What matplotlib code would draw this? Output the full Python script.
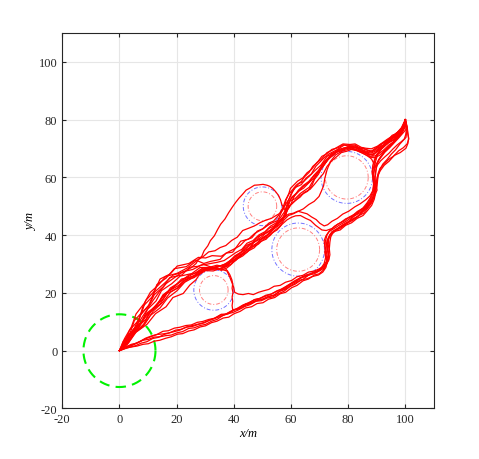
import matplotlib
matplotlib.use("Agg")
import matplotlib.pyplot as plt
import numpy as np

# ---------------- data ----------------
start_xy = (0, 0)
start_radius = 12.6

obst_x = [33, 50, 62.5, 79.5]
obst_y = [21, 50, 35, 60]
obst_r_inner = [5, 5, 7.5, 7.5]
obst_r_safe = [7, 6.7, 9.2, 9.0]

xticks = [-20, 0, 20, 40, 60, 80, 100]
yticks = [-20, 0, 20, 40, 60, 80, 100]

U1 = [(0,0),(2,3.4),(3.6,7.2),(6.8,10.6),(8.2,15.3),(11.4,18.6),(13.1,22.9),(16.3,25.1),(19.2,28.4),(23.4,29.1),(26.6,31.4),(29.5,30.2),(31.8,30.9),(35.2,31.6),(37.3,33.8),(39.6,34.1),(42.4,37.9),(45.1,38.6),(47.3,40.6),(50.2,42.2),(52.6,43.9),(55.4,45.1),(57.2,49.3),(59.4,52.6),(61.2,56.4),(63.6,57.5),(65.3,59.8),(67.1,61.2),(68.7,63.9),(71.6,66.8),(73.2,68.1),(76.3,69.7),(78.6,71.2),(80.4,70.7),(82.5,70.9),(84.3,69.7),(87.2,68.8),(89.4,69.6),(91.2,71.4),(93.6,72.6),(95.4,74.6),(97.3,75.3),(99.2,77.6),(100,80)]
U2 = [(0,0),(2.6,4.4),(5.7,7.6),(7.6,12.9),(10.3,15.6),(12.2,19.4),(15.3,22.1),(17.6,25.3),(21.8,26.2),(24.6,28.9),(27.4,29.2),(29.3,29.9),(32.8,28.7),(35.1,29.2),(36.7,29.9),(38.6,31.1),(40.3,32.8),(42.5,34.1),(44.2,36.4),(46.4,37.3),(48.3,39.4),(50.6,40.6),(52.2,42.3),(54.1,43.2),(55.7,44.9),(58.2,47.1),(59.6,51.8),(61.4,52.6),(63.2,54.4),(66.4,56.6),(68.5,60.2),(69.7,61.8),(71.8,64.7),(74.2,68.3),(77.6,69.2),(80.3,70.4),(82.4,69.8),(85.2,68.9),(88.7,67.6),(90.2,69.4),(91.8,70.9),(93.6,71.6),(95.3,73.4),(97.6,74.6),(99.3,77.2),(100,80)]
U3 = [(0,0),(2.8,2.3),(4.6,5.8),(8.3,8.7),(10.6,13.3),(14.2,16.1),(16.6,19.8),(20.3,21.6),(22.6,24.4),(26.3,26.1),(28.6,28.3),(32.2,28.2),(35.3,28.4),(37.6,29.2),(39.1,30.9),(41.3,32.3),(43.2,33.6),(45.3,35.4),(47.1,36.3),(49.4,38.5),(51.2,39.4),(53.4,41.8),(55.6,44.2),(58.3,46.6),(58.2,49.2),(58.9,51.6),(60.2,54.7),(62.6,57.8),(64.4,58.6),(66.9,60.9),(68.3,62.3),(70.4,64.2),(72.6,67.3),(74.2,68.1),(76.8,69.8),(80.2,70.2),(82.6,70.6),(84.2,69.1),(87.6,67.8),(89.2,68.2),(90.8,69.7),(92.2,70.6),(94.3,72.4),(96.1,73.1),(97.6,74.8),(99.4,76.6),(100,80)]
U4 = [(0,0),(3.2,2.8),(5.8,6.4),(9.7,9.2),(12.6,12.8),(16.3,15.2),(18.7,18.4),(22.3,19.8),(24.6,22.7),(26.8,24.6),(27.9,26.3),(30.2,27.8),(33.2,28.7),(35.6,27.8),(37.5,28.6),(38.8,29.6),(40.2,31.2),(42.1,32.4),(43.8,34.7),(45.6,35.6),(47.2,37.8),(49.6,38.7),(51.8,40.2),(53.4,42.1),(55.2,43.3),(57.4,46.2),(58.6,48.3),(59.3,49.9),(61.6,52.1),(63.2,53.8),(65.8,55.2),(67.3,57.2),(68.2,59.3),(69.6,61.1),(70.8,63.4),(72.4,65.4),(73.6,66.9),(76.6,69.2),(78.2,70.1),(81.3,70.8),(83.4,70.1),(85.2,70.2),(88.1,68.7),(90.4,70.3),(92.3,71.2),(94.2,72.9),(96.1,73.8),(98.2,75.9),(99.3,77.4),(100,80)]
U5 = [(0,0),(1.3,3.2),(3.8,6.3),(5.2,10.4),(7.8,13.2),(9.2,17.4),(12.3,20.7),(14.2,24.8),(17.8,26.6),(20.2,29.3),(24.3,30.2),(27.6,32.3),(30.1,32.1),(32.4,32.9),(35.6,32.7),(38.1,34.2),(40.3,35.3),(42.2,36.4),(44.1,38.3),(46.3,39.1),(48.2,41.4),(50.1,42.2),(52.3,44.2),(53.9,44.9),(55.6,46.8),(57.2,49.6),(58.1,52.2),(59.3,54.3),(60.6,55.8),(61.8,57.3),(63.6,58.6),(64.8,60.3),(66.3,61.7),(67.6,63.8),(69.2,65.2),(70.8,67.3),(72.4,68.1),(74.3,69.7),(76.6,70.3),(78.2,71.3),(80.3,71.1),(82.4,71.2),(84.1,70.2),(86.3,69.6),(88.2,69.1),(89.7,70.3),(91.4,71.2),(93.2,72.7),(95.1,73.6),(96.8,75.3),(98.4,76.4),(99.2,77.8),(100,80)]
U6 = [(0,0),(2.8,3.2),(4.8,7.3),(7.8,10.1),(9.8,14.3),(12.8,17.2),(14.7,20.8),(18.3,23.2),(21.2,25.8),(25.3,26.7),(28.2,28.8),(32.3,28.8),(34.8,29.3),(36.9,29.6),(38.2,30.8),(40.1,32.1),(41.8,33.3),(43.6,35.1),(45.3,36.7),(47.6,37.8),(49.2,39.8),(51.7,40.9),(53.6,42.3),(55.2,44.1),(56.8,45.3),(58.4,48.8),(59.8,50.4),(61.3,51.8),(63.2,53.2),(64.6,54.8),(66.7,55.9),(68.2,57.6),(69.6,59.3),(71.3,61.3),(72.6,63.8),(74.2,65.7),(76.1,67.3),(77.6,68.6),(79.6,69.1),(81.4,69.8),(83.3,69.2),(85.2,68.3),(86.8,67.6),(88.2,66.3),(89.6,63.6),(90.6,64.8),(91.3,65.7),(92.8,67.1),(94.2,68.3),(95.6,69.8),(97.2,71.3),(98.6,72.4),(100.2,73.8),(100.6,77.1),(100,80)]
U7 = [(0,0),(3.2,3.3),(5.8,7.7),(9.2,10.8),(11.8,14.7),(15.2,17.8),(17.8,21.7),(21.2,23.8),(24.3,26.2),(28.2,27.3),(31.3,28.7),(35.2,28.3),(37.4,29.2),(39.3,30.1),(41.2,31.8),(43.1,32.8),(45.2,34.6),(47.1,35.6),(49.1,37.7),(51.3,38.6),(53.2,40.7),(55.1,41.8),(56.8,43.7),(58.6,45.3),(60.2,46.2),(61.6,46.7),(63.3,46.8),(65.2,45.8),(66.8,45.1),(68.6,43.4),(70.8,41.8),(72.3,41.6),(74.6,42.4),(76.3,43.8),(78.6,44.9),(80.4,46.3),(82.6,47.4),(84.3,48.7),(86.2,50.1),(87.8,51.8),(88.6,53.2),(89.2,55.3),(89.6,57.2),(89.3,59.1),(89.6,61.2),(89.8,63.1),(90.2,65.2),(91.4,67.2),(92.6,68.8),(94.2,70.4),(96.1,72.6),(97.6,74.2),(99.1,76.1),(100,80)]
U8 = [(0,0),(2.2,2.8),(4.3,6.2),(7.2,9.3),(9.8,13.2),(13.2,15.8),(15.8,19.7),(19.2,22.3),(22.3,24.7),(26.2,26.8),(29.3,28.6),(33.2,28.4),(35.8,29.6),(37.6,30.2),(39.6,31.8),(41.3,33.2),(43.6,34.8),(45.3,36.2),(47.4,37.8),(49.6,39.3),(51.3,40.8),(53.2,42.1),(55.1,43.8),(56.7,45.2),(57.6,46.3),(59.2,47.3),(60.8,47.6),(62.4,48.3),(63.8,47.9),(65.6,47.4),(67.2,46.3),(68.8,45.4),(70.1,44.1),(71.6,43.2),(72.8,43.6),(74.3,44.8),(76.2,45.8),(78.1,47.3),(80.2,48.3),(82.3,49.8),(84.1,50.8),(86.2,52.3),(87.6,53.6),(88.6,55.4),(89.1,57.6),(88.7,59.6),(88.4,61.7),(88.9,63.6),(89.2,65.6),(90.2,67.8),(91.6,69.8),(93.3,71.6),(95.2,73.3),(96.8,75.2),(98.6,76.8),(100,80)]
U9 = [(0,0),(2.4,4.2),(5.2,7.8),(7.3,12.2),(10.2,15.7),(12.3,20.3),(15.7,23.3),(18.8,26.2),(22.6,27.3),(25.2,28.8),(26.8,30.2),(27.6,31.6),(28.8,32.7),(29.6,34.6),(30.9,36.3),(31.8,38.1),(33.2,39.8),(34.3,41.9),(35.4,43.8),(36.9,45.6),(38.2,47.8),(39.4,49.6),(40.6,51.3),(41.8,52.8),(43.1,54.2),(44.3,55.6),(45.6,56.3),(47.2,57.3),(48.6,57.4),(50.2,57.6),(51.6,57.3),(52.6,56.9),(53.6,56.2),(54.6,55.1),(55.6,53.8),(56.3,52.3),(56.8,50.6),(57.6,49.2),(58.3,48.2),(59.4,49.6),(60.2,51.3),(61.3,53.8),(62.6,55.6),(64.3,57.2),(66.2,58.6),(68.1,60.8),(69.6,62.3),(71.2,64.6),(72.6,66.3),(74.6,67.8),(76.3,69.3),(78.6,70.2),(80.2,70.4),(82.6,70.3),(84.3,69.6),(86.2,68.8),(88.1,68.4),(89.6,69.2),(91.3,70.6),(92.6,71.2),(94.3,72.4),(96.1,73.2),(97.6,74.8),(99.2,76.4),(100,80)]
U10 = [(0,0),(3.3,4.7),(6.8,8.2),(9.2,12.3),(12.8,15.2),(15.2,19.3),(18.8,21.7),(21.7,24.8),(25.8,25.7),(28.6,27.8),(32.8,27.6),(35.6,28.6),(37.4,29.4),(38.9,30.9),(40.3,31.6),(42.2,33.2),(44.1,34.3),(46.2,36.2),(48.1,37.2),(50.3,39.3),(52.1,40.1),(54.2,42.3),(55.8,43.4),(57.2,45.2),(57.9,47.6),(58.6,49.9),(59.8,52.3),(61.2,53.6),(62.8,55.3),(64.4,56.3),(66.3,58.2),(67.8,59.6),(69.8,62.3),(71.2,63.8),(72.8,66.1),(74.4,67.4),(76.2,69.2),(78.3,69.8),(80.3,70.8),(82.2,70.2),(84.2,70.1),(86.1,68.6),(87.6,67.3),(89.2,67.4),(90.8,68.3),(92.3,69.4),(94.2,71.2),(95.8,72.3),(97.3,74.2),(98.8,75.6),(100.2,78.1),(100,80)]
U11 = [(0,0),(1.8,4.2),(4.2,8.3),(5.8,12.7),(8.6,16.3),(10.8,20.2),(13.7,22.8),(16.2,25.7),(20.2,26.8),(23.8,28.7),(27.2,31.3),(29.3,32.6),(31.2,34.2),(33.4,34.6),(35.2,35.7),(37.2,36.4),(39.3,38.2),(41.2,39.3),(43.1,41.6),(45.2,42.4),(47.2,43.2),(49.3,44.4),(51.2,45.2),(53.1,45.8),(54.6,46.7),(56.2,47.6),(57.2,48.8),(57.8,50.2),(58.3,52.3),(59.2,54.3),(59.8,56.2),(61.2,57.6),(62.3,58.7),(64.1,59.8),(65.6,61.6),(67.2,62.8),(69.1,65.2),(70.6,66.3),(72.6,68.6),(74.4,69.4),(76.6,70.7),(78.2,71.6),(80.6,71.4),(82.4,71.6),(84.6,70.4),(86.2,70.1),(88.1,69.9),(90.2,70.8),(92.1,72.1),(93.8,73.3),(95.6,74.4),(97.2,75.6),(98.6,77.2),(100,80)]
U12 = [(0,0),(3.2,2.8),(5.8,6.7),(9.2,9.8),(11.8,13.7),(15.2,16.8),(17.8,20.2),(21.2,22.3),(24.3,25.2),(28.2,26.8),(31.3,28.7),(35.2,28.3),(37.6,27.6),(38.7,25.2),(39.9,22.1),(40.3,20.2),(41.6,19.6),(43.2,19.4),(45.1,19.8),(46.8,19.4),(48.6,20.2),(50.3,20.7),(52.2,21.2),(54.1,22.3),(56.2,22.6),(58.1,23.7),(60.2,24.3),(62.1,25.6),(64.2,26.1),(66.1,27.2),(68.2,27.6),(69.8,28.3),(71.3,29.2),(72.3,30.8),(72.8,32.4),(73.1,34.2),(72.7,36.1),(72.6,38.2),(73.4,39.8),(74.3,41.2),(76.1,42.2),(77.8,43.3),(79.6,44.2),(81.6,45.6),(83.4,46.6),(85.2,48.2),(86.6,49.6),(88.2,51.6),(89.1,53.4),(89.6,55.6),(89.8,57.8),(90.2,60.2),(91.2,62.3),(92.6,64.2),(94.3,65.6),(96.1,67.6),(98.2,68.6),(100.2,70.1),(100.9,71.8),(101.1,73.6),(100.8,75.3),(100.6,77.1),(100,80)]
U13 = [(0,0),(2.7,2.3),(4.8,5.7),(8.2,8.3),(10.8,12.2),(14.2,14.8),(16.8,18.2),(20.2,20.8),(22.8,23.7),(26.7,25.8),(29.8,28.2),(34.2,28.3),(36.8,28.7),(37.8,27.6),(38.6,26.3),(39.3,24.6),(39.6,23.2),(39.4,21.6),(39.7,20.1),(39.4,18.6),(39.6,17.1),(39.4,15.6),(39.6,14.2),(41.2,14.3),(42.8,14.8),(44.3,15.9),(46.2,16.3),(48.1,17.3),(50.2,17.8),(52.1,18.8),(54.2,19.3),(56.1,20.6),(58.2,21.3),(60.1,22.6),(62.2,23.8),(64.1,24.6),(66.2,26.2),(68.1,26.6),(70.1,27.7),(71.6,28.6),(72.6,30.2),(73.2,31.8),(73.1,33.7),(72.6,35.2),(72.4,37.2),(73.1,38.8),(73.8,40.2),(75.3,41.3),(77.2,41.8),(79.1,43.4),(81.2,44.3),(83.1,45.8),(85.2,46.8),(86.8,48.6),(88.2,50.3),(89.1,52.4),(89.6,54.6),(89.2,56.6),(89.1,58.6),(88.8,60.6),(89.2,62.7),(89.8,64.6),(91.2,66.6),(92.8,68.7),(94.6,70.4),(96.2,72.1),(97.6,73.6),(99.1,75.3),(100.2,76.6),(100,80)]
U14 = [(0,0),(2.2,3.8),(4.8,6.8),(7.1,10.3),(9.4,13.8),(11.6,17.2),(14.1,20.6),(16.4,23.3),(19.1,25.2),(22.3,27.4),(25.6,28.1),(28.6,29.6),(31.4,30.1),(34.2,30.6),(36.6,31.2),(38.7,32.6),(40.6,33.9),(42.8,35.1),(44.6,37.2),(46.7,38.1),(48.8,40.1),(50.9,41.2),(52.8,43.1),(54.7,44.2),(56.3,46.1),(57.6,47.9),(58.8,50.6),(60.3,53.2),(62.1,54.7),(64.2,56.8),(66.3,58.3),(68.1,60.7),(69.8,62.6),(71.3,64.9),(73.4,67.2),(75.6,68.6),(77.8,69.8),(80.1,70.1),(82.3,69.6),(84.4,69.1),(86.6,68.2),(88.2,67.9),(90.1,68.9),(92.2,70.3),(93.9,71.8),(95.8,72.9),(97.6,74.4),(99.1,76.8),(100,80)]
U15 = [(0,0),(3.6,4.1),(6.2,7.2),(8.8,11.3),(11.4,14.2),(14.3,17.6),(17.2,20.6),(20.4,22.4),(23.2,24.6),(26.1,25.3),(27.8,26.6),(29.2,28.1),(31.6,28.9),(34.1,29.6),(36.4,29.1),(38.2,30.3),(40.6,31.2),(42.3,32.8),(44.6,34.1),(46.4,35.8),(48.6,36.9),(50.4,38.6),(52.6,39.8),(54.3,41.6),(56.2,43.1),(57.6,45.3),(59.1,46.8),(60.8,47.4),(62.6,48.3),(64.3,49.1),(66.2,50.6),(68.1,51.7),(69.8,53.4),(70.6,55.2),(71.4,57.1),(71.8,59.6),(72.6,62.6),(73.7,65.4),(75.6,67.8),(77.8,69.1),(80.4,69.8),(82.7,69.4),(85.1,68.4),(87.3,67.1),(89.1,66.8),(90.9,67.6),(92.7,69.3),(94.6,70.8),(96.4,72.8),(98.2,74.6),(99.6,77.1),(100,80)]
L1 = [(0,0),(2.2,0.9),(4.3,1.3),(6.2,1.6),(8.3,2.2),(10.1,2.4),(12.2,3.3),(14.1,3.6),(16.2,4.3),(18.1,4.8),(20.3,5.7),(22.1,5.9),(24.2,6.8),(26.1,7.2),(28.2,8.2),(30.1,8.6),(32.2,9.7),(34.1,10.2),(36.3,11.3),(38.2,11.6),(40.1,12.8),(42.2,13.6),(44.1,14.8),(46.2,15.2),(48.1,16.3),(50.2,16.6),(52.1,17.8),(54.3,18.4),(56.2,19.7),(58.1,20.2),(60.2,21.8),(62.1,22.6),(64.2,24.2),(66.1,24.8),(68.2,26.2),(69.8,26.6),(71.2,27.8),(72.3,29.6),(72.6,31.3),(72.3,33.2),(72.6,35.3),(72.8,37.2),(73.2,39.1),(74.2,40.4),(75.8,41.7),(77.6,42.6),(79.6,44.2),(81.6,45.1),(83.6,46.7),(85.4,47.6),(87.1,49.7),(88.3,51.3),(89.1,53.6),(89.3,55.7),(89.6,58.1),(89.3,60.1),(89.6,62.2),(90.1,64.2),(90.6,66.1),(92.1,68.2),(93.6,70.1),(95.3,71.6),(97.1,73.6),(98.6,75.1),(99.6,77.2),(100,80)]
L2 = [(0,0),(1.8,1.2),(3.2,1.6),(5.1,2.3),(7.2,3.2),(9.1,4.3),(11.2,5.1),(13.1,5.6),(15.2,6.7),(17.1,6.9),(19.2,7.8),(21.1,8.1),(23.2,8.7),(25.1,8.9),(27.2,9.8),(29.1,10.1),(31.2,10.8),(33.1,11.2),(35.2,12.3),(37.1,12.6),(39.2,13.8),(41.1,14.4),(43.2,15.7),(45.1,16.3),(47.2,17.7),(49.1,18.1),(51.2,19.2),(53.1,19.6),(55.2,20.8),(57.1,21.3),(59.2,22.8),(61.1,23.7),(63.2,25.2),(65.1,25.6),(67.2,26.8),(69.1,27.3),(70.6,28.7),(71.6,30.2),(72.1,32.2),(71.8,34.1),(72.2,36.2),(72.1,38.2),(72.6,40.1),(73.6,41.6),(75.2,43.1),(77.1,44.2),(79.2,45.7),(81.1,46.4),(83.2,48.2),(85.1,49.3),(86.6,51.2),(87.8,53.1),(88.6,55.2),(88.8,57.1),(89.1,59.2),(88.8,61.1),(89.1,63.2),(89.6,65.6),(90.2,67.6),(91.2,69.6),(92.6,71.6),(94.4,73.1),(96.2,74.6),(97.8,76.1),(99.2,77.6),(100,80)]
L3 = [(0,0),(2.1,1.3),(4.2,2.2),(6.1,2.6),(8.2,3.6),(10.1,3.9),(12.2,4.7),(14.1,4.8),(16.2,5.2),(18.1,5.4),(20.2,6.2),(22.1,6.6),(24.2,7.7),(26.1,7.9),(28.2,8.7),(30.1,9.1),(32.2,10.2),(34.1,10.8),(36.2,12.2),(38.1,12.8),(40.2,14.2),(42.1,14.8),(44.2,16.2),(46.1,16.6),(48.2,17.7),(50.1,17.9),(52.2,18.7),(54.1,19.2),(56.2,20.7),(58.1,21.6),(60.2,23.2),(62.1,24.1),(64.2,25.7),(66.1,26.1),(68.2,27.2),(70.1,27.8),(71.6,29.2),(72.6,30.8),(73.1,32.6),(72.8,34.6),(73.2,36.6),(73.1,38.4),(73.6,40.2),(75.2,41.6),(77.1,42.7),(79.2,43.8),(81.1,45.2),(83.2,46.3),(85.1,48.2),(86.8,49.8),(88.1,51.6),(89.2,53.6),(90.1,55.6),(89.8,57.6),(90.1,59.6),(90.4,61.2),(91.1,63.1),(92.6,64.6),(94.1,66.2),(95.8,67.3),(97.6,69.2),(99.3,70.3),(100.6,71.6),(101.2,73.3),(100.9,75.2),(100.6,77.6),(100,80)]
L4 = [(0,0),(1.7,0.6),(3.6,1.2),(5.6,1.7),(7.6,2.6),(9.6,3.1),(11.6,4.2),(13.6,4.6),(15.6,5.6),(17.6,6.2),(19.6,7.1),(21.6,7.4),(23.6,8.2),(25.6,8.4),(27.6,9.1),(29.6,9.6),(31.6,10.6),(33.6,11.3),(35.6,12.6),(37.6,12.7),(39.6,13.2),(41.6,14.1),(43.6,15.2),(45.6,15.9),(47.6,17.1),(49.6,17.3),(51.6,18.2),(53.6,18.6),(55.6,19.7),(57.6,20.6),(59.6,22.2),(61.6,23.1),(63.6,24.6),(65.6,24.9),(67.6,25.7),(69.6,26.2),(71.1,27.2),(72.2,28.8),(72.6,30.4),(72.2,32.2),(72.1,34.1),(71.8,36.1),(71.6,38.1),(72.2,39.7),(73.2,41.2),(75.1,42.3),(77.1,43.6),(79.1,44.7),(81.1,46.1),(82.8,47.2),(84.6,48.6),(86.2,50.2),(87.6,52.1),(88.6,54.2),(89.1,56.2),(88.8,58.2),(88.6,60.2),(88.4,62.1),(88.6,64.2),(89.2,66.2),(90.1,68.2),(91.6,69.8),(93.1,71.6),(94.8,72.8),(96.6,74.6),(98.2,75.8),(99.6,77.6),(100,80)]
L5 = [(0,0),(2.6,1.1),(5.1,2.1),(7.2,3.2),(9.1,4.1),(11.2,4.9),(13.1,5.6),(15.2,5.8),(17.1,6.1),(19.2,6.6),(21.1,7.1),(23.2,8.1),(25.1,8.6),(27.2,9.1),(29.1,9.6),(31.2,10.4),(33.1,11.1),(35.2,11.8),(37.1,12.6),(39.2,13.6),(41.1,14.6),(43.2,15.8),(45.1,16.6),(47.2,17.6),(49.1,18.1),(51.2,18.9),(53.1,19.6),(55.2,20.6),(57.1,21.6),(59.2,22.8),(61.1,24.1),(63.2,25.2),(65.1,26.1),(67.2,26.8),(69.1,27.6),(70.8,28.6),(72.2,29.7),(73.2,31.3),(73.6,33.2),(73.4,35.3),(73.6,37.6),(73.9,39.4),(74.8,41.1),(76.3,42.3),(78.1,43.6),(80.2,44.8),(82.1,46.6),(84.2,47.8),(86.1,49.6),(87.6,51.2),(88.6,53.1),(89.6,55.2),(90.1,57.1),(90.3,59.2),(90.6,61.1),(91.3,63.1),(92.1,64.6),(93.6,66.2),(95.1,68.1),(96.6,69.6),(98.1,71.6),(99.6,73.2),(100.2,75.1),(100.4,77.6),(100,80)]

trajectories = [U1, U2, U3, U4, U5, U6, U7, U8, U9, U10, U11, U12, U13, U14, U15,
                L1, L2, L3, L4, L5]

# ---------------- plot ----------------
plt.rcParams['font.family'] = ['Liberation Serif', 'DejaVu Serif']
plt.rcParams['axes.unicode_minus'] = False
fig = plt.figure(figsize=(4.79, 4.60), dpi=100)
ax = fig.add_axes([0.130, 0.110, 0.776, 0.816])

for tr in trajectories:
    arr = np.array(tr, dtype=float)
    ax.plot(arr[:, 0], arr[:, 1], color='red', lw=0.9, zorder=3)

th = np.linspace(0, 2 * np.pi, 300)
for cx, cy, ri, rs in zip(obst_x, obst_y, obst_r_inner, obst_r_safe):
    ax.plot(cx + rs * np.cos(th), cy + rs * np.sin(th), color=(0.45, 0.45, 1.0),
            lw=0.7, ls=(0, (4, 2, 1, 2)), zorder=2)
    ax.plot(cx + ri * np.cos(th), cy + ri * np.sin(th), color=(1.0, 0.5, 0.5),
            lw=0.7, ls=(0, (4, 2, 1, 2)), zorder=2)

ax.plot(start_xy[0] + start_radius * np.cos(th), start_xy[1] + start_radius * np.sin(th),
        color=(0.0, 0.95, 0.0), lw=1.5, ls=(0, (5, 3)), zorder=2)

ax.set_xlim(-20, 110)
ax.set_ylim(-20, 110)
ax.set_xticks(xticks)
ax.set_yticks(yticks)
ax.grid(True, color=(0.9, 0.9, 0.9), lw=0.8)
ax.set_axisbelow(True)
ax.tick_params(direction='in', top=True, right=True, length=3, labelsize=9,
               colors=(0.15, 0.15, 0.15))
for s in ax.spines.values():
    s.set_color((0.15, 0.15, 0.15))
    s.set_linewidth(0.8)
ax.set_xlabel('x/m', fontstyle='italic', fontsize=9, labelpad=1)
ax.set_ylabel('y/m', fontstyle='italic', fontsize=9, labelpad=1)

fig.savefig('out.png', dpi=100)
